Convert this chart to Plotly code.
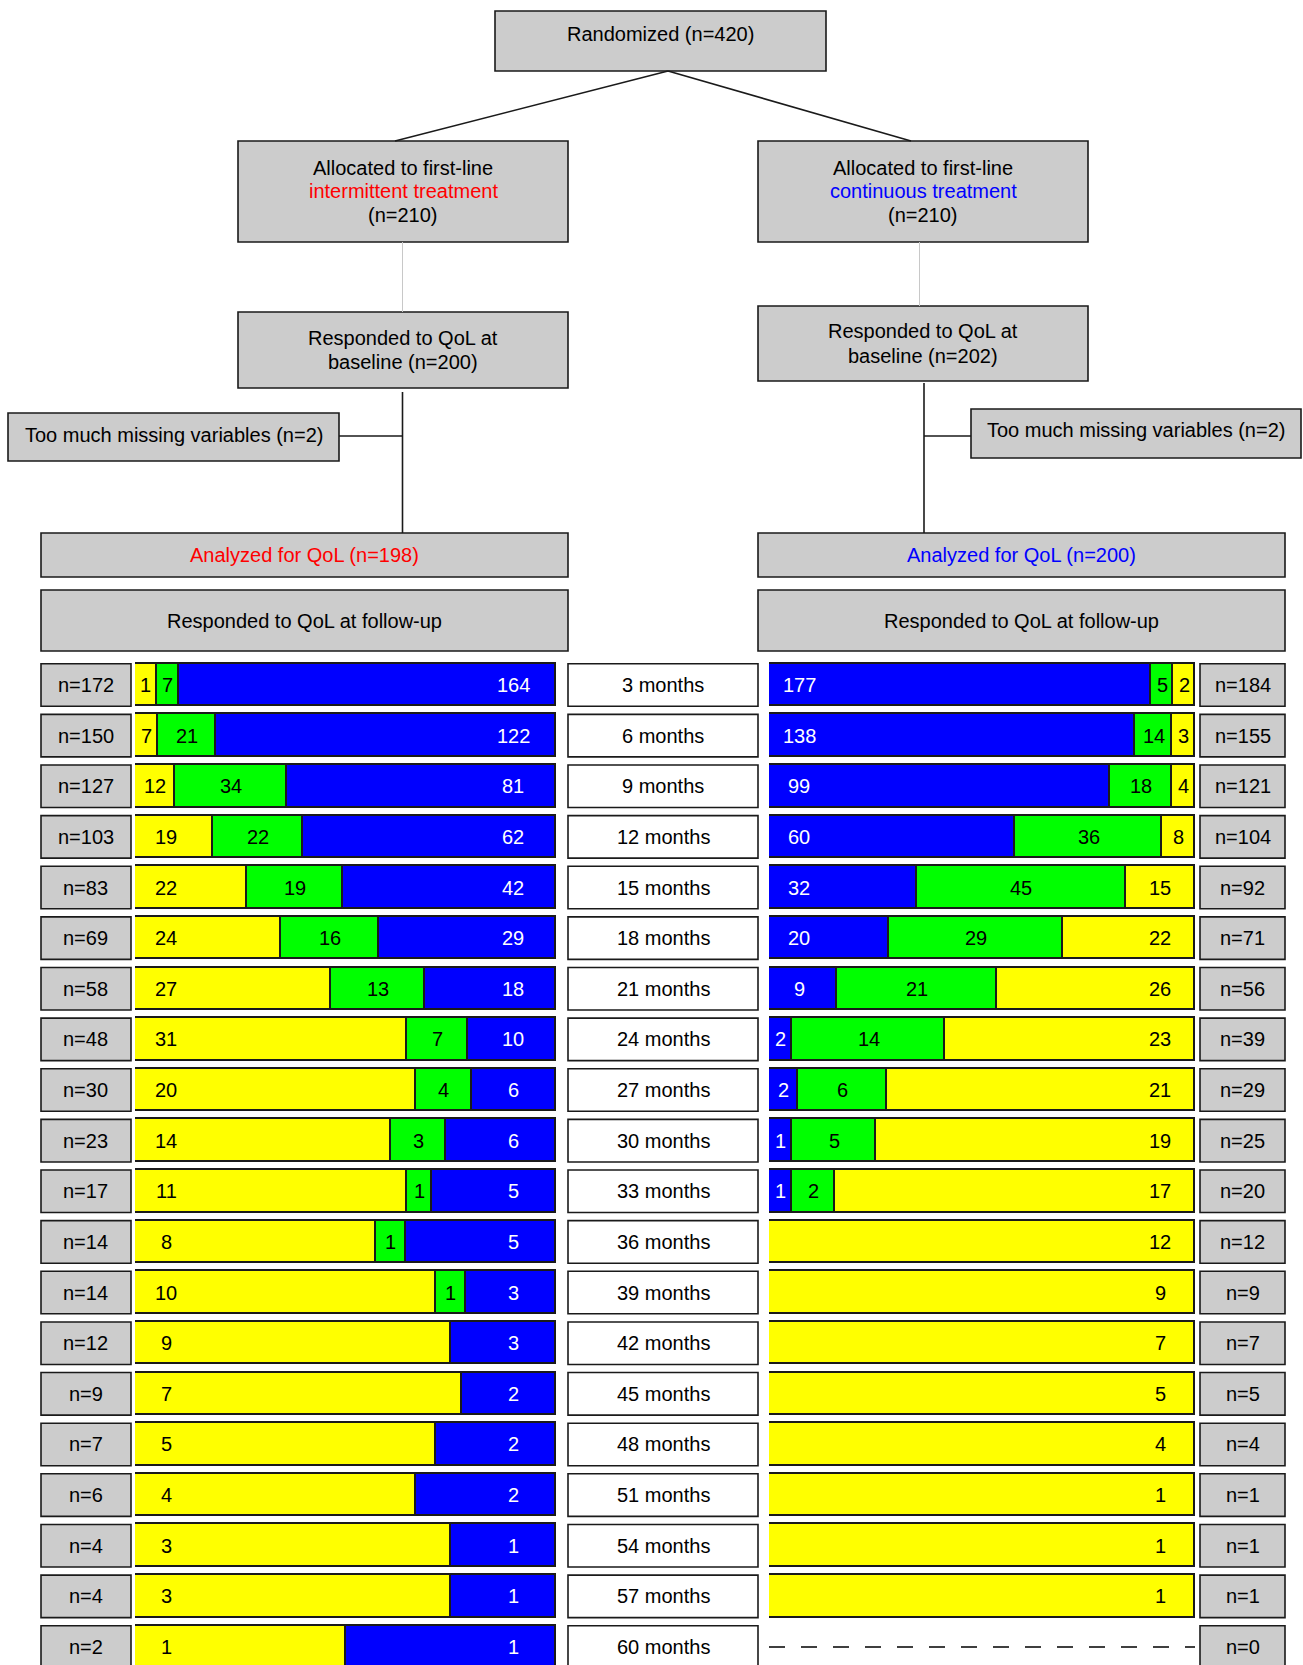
import plotly.graph_objects as go

# ---------------- data ----------------
months = ["3 months", "6 months", "9 months", "12 months", "15 months", "18 months",
          "21 months", "24 months", "27 months", "30 months", "33 months", "36 months",
          "39 months", "42 months", "45 months", "48 months", "51 months", "54 months",
          "57 months", "60 months"]

# intermittent arm (left): yellow, green, blue counts and responders
left_n = [172, 150, 127, 103, 83, 69, 58, 48, 30, 23, 17, 14, 14, 12, 9, 7, 6, 4, 4, 2]
left_yellow = [1, 7, 12, 19, 22, 24, 27, 31, 20, 14, 11, 8, 10, 9, 7, 5, 4, 3, 3, 1]
left_green = [7, 21, 34, 22, 19, 16, 13, 7, 4, 3, 1, 1, 1, 0, 0, 0, 0, 0, 0, 0]
left_blue = [164, 122, 81, 62, 42, 29, 18, 10, 6, 6, 5, 5, 3, 3, 2, 2, 2, 1, 1, 1]

# continuous arm (right): blue, green, yellow counts and responders
right_n = [184, 155, 121, 104, 92, 71, 56, 39, 29, 25, 20, 12, 9, 7, 5, 4, 1, 1, 1, 0]
right_blue = [177, 138, 99, 60, 32, 20, 9, 2, 2, 1, 1, 0, 0, 0, 0, 0, 0, 0, 0, 0]
right_green = [5, 14, 18, 36, 45, 29, 21, 14, 6, 5, 2, 0, 0, 0, 0, 0, 0, 0, 0, 0]
right_yellow = [2, 3, 4, 8, 15, 22, 26, 23, 21, 19, 17, 12, 9, 7, 5, 4, 1, 1, 1, 0]

# ---------------- style / layout constants ----------------
W, H = 1303, 1665
FONT = "Arial, Liberation Sans, sans-serif"
FS = 20
LINE_PX = 24
GRAY = "#cccccc"
YEL, GRN, BLU = "#ffff00", "#00ff00", "#0000ff"
EDGE = "#1a1a1a"
MIN_SHARE = 0.055         # minimum visible width of a non-empty segment
ROW0_PX, PITCH_PX, TOP_PX = 685.0, 50.63, 655.0
BAR_W = 0.84

LBAR = (135, 556)
RBAR = (769, 1195)


def X(p):
    return p / W


def Y(p):
    return 1 - p / H


def shares(vals):
    tot = sum(vals)
    if tot == 0:
        return [0.0] * len(vals)
    s = [max(v / tot, MIN_SHARE) if v > 0 else 0.0 for v in vals]
    t = sum(s)
    return [v / t for v in s]


rows = list(range(len(months)))
left_sh = [shares([a, b, c]) for a, b, c in zip(left_yellow, left_green, left_blue)]
right_sh = [shares([a, b, c]) for a, b, c in zip(right_blue, right_green, right_yellow)]

fig = go.Figure()


def add_bar(xs, color, axis):
    fig.add_trace(go.Bar(
        x=[v if v > 0 else None for v in xs], y=rows, orientation="h", width=BAR_W,
        marker=dict(color=color, line=dict(color=EDGE, width=1.6)),
        xaxis=axis, yaxis="y", hoverinfo="skip", showlegend=False))


add_bar([s[0] for s in left_sh], YEL, "x")
add_bar([s[1] for s in left_sh], GRN, "x")
add_bar([s[2] for s in left_sh], BLU, "x")
add_bar([s[0] for s in right_sh], BLU, "x2")
add_bar([s[1] for s in right_sh], GRN, "x2")
add_bar([s[2] for s in right_sh], YEL, "x2")

shapes = []
annotations = []


def box(x0, y0, x1, y1, lines, fill=GRAY, dy=0.0, width=1.6):
    shapes.append(dict(type="rect", xref="paper", yref="paper",
                       x0=X(x0), x1=X(x1), y0=Y(y1), y1=Y(y0),
                       fillcolor=fill, line=dict(color=EDGE, width=width), layer="below"))
    cy = (y0 + y1) / 2 + dy
    n = len(lines)
    for k, (txt, col) in enumerate(lines):
        yy = cy + (k - (n - 1) / 2) * LINE_PX
        annotations.append(dict(xref="paper", yref="paper", x=X((x0 + x1) / 2), y=Y(yy),
                                text=txt, showarrow=False, xanchor="center", yanchor="middle",
                                font=dict(family=FONT, size=FS, color=col)))


def line(x0, y0, x1, y1, color=EDGE, width=1.6):
    shapes.append(dict(type="line", xref="paper", yref="paper",
                       x0=X(x0), x1=X(x1), y0=Y(y0), y1=Y(y1),
                       line=dict(color=color, width=width)))


K, R, B = "black", "#ff0000", "#0000ff"
# flow chart
box(495, 11, 826, 71, [("Randomized (n=420)", K)], dy=-7)
box(238, 141, 568, 242, [("Allocated to first-line", K), ("intermittent treatment", R), ("(n=210)", K)])
box(758, 141, 1088, 242, [("Allocated to first-line", K), ("continuous treatment", B), ("(n=210)", K)])
box(238, 312, 568, 388, [("Responded to QoL at", K), ("baseline (n=200)", K)])
box(758, 306, 1088, 381, [("Responded to QoL at", K), ("baseline (n=202)", K)])
box(8, 413, 339, 461, [("Too much missing variables (n=2)", K)], dy=-2)
box(971, 409, 1301, 458, [("Too much missing variables (n=2)", K)], dy=-4)
box(41, 533, 568, 577, [("Analyzed for QoL (n=198)", R)])
box(758, 533, 1285, 577, [("Analyzed for QoL (n=200)", B)])
box(41, 590, 568, 651, [("Responded to QoL at follow-up", K)])
box(758, 590, 1285, 651, [("Responded to QoL at follow-up", K)])

line(668, 71, 395, 141)
line(668, 71, 911, 141)
line(402.5, 242, 402.5, 312, color="#c8c8c8", width=1)
line(919.5, 242, 919.5, 306, color="#c8c8c8", width=1)
line(402.5, 392, 402.5, 533)
line(339, 436, 402.5, 436)
line(924, 383, 924, 533)
line(924, 436, 971, 436)

# row boxes
half = BAR_W / 2
for i in rows:
    for (x0, x1, txt, fill) in [(41, 131, f"n={left_n[i]}", GRAY),
                                (568, 758, months[i], "white"),
                                (1200, 1285, f"n={right_n[i]}", GRAY)]:
        shapes.append(dict(type="rect", xref="paper", yref="y", x0=X(x0), x1=X(x1),
                           y0=i - half, y1=i + half, fillcolor=fill,
                           line=dict(color=EDGE, width=1.6), layer="below"))
        annotations.append(dict(xref="paper", yref="y", x=X((x0 + x1) / 2), y=i, text=txt,
                                showarrow=False, xanchor="center", yanchor="middle",
                                font=dict(family=FONT, size=FS, color="black")))

# dashed line where the continuous arm has no responders
for i in rows:
    if right_n[i] == 0:
        shapes.append(dict(type="line", xref="x2", yref="y", x0=0, x1=1, y0=i, y1=i,
                           line=dict(color="black", width=1.5, dash="16px,16px")))


# segment labels
def seg_labels(sh, counts, colors, axis, barpx, first_off, last_off):
    for i in rows:
        start = 0.0
        n = len(counts)
        for k in range(n):
            v = counts[k][i]
            w = sh[i][k]
            if v <= 0:
                start += w
                continue
            wpx = w * barpx
            xc = start + w / 2
            shift = 0
            if k == 0 and wpx > 2 * first_off:
                xc, shift = start, first_off
            elif k == n - 1 and wpx > 2 * last_off:
                xc, shift = start + w, -last_off
            annotations.append(dict(xref=axis, yref="y", x=xc, y=i, xshift=shift, text=str(v),
                                    showarrow=False, xanchor="center", yanchor="middle",
                                    font=dict(family=FONT, size=FS,
                                              color="white" if colors[k] == BLU else "black")))
            start += w


seg_labels(left_sh, [left_yellow, left_green, left_blue], [YEL, GRN, BLU], "x",
           LBAR[1] - LBAR[0], 31, 43)
seg_labels(right_sh, [right_blue, right_green, right_yellow], [BLU, GRN, YEL], "x2",
           RBAR[1] - RBAR[0], 30, 35)

yr0 = (H - ROW0_PX) / PITCH_PX
yr1 = (TOP_PX - ROW0_PX) / PITCH_PX

fig.update_layout(
    width=W, height=H, margin=dict(l=0, r=0, t=0, b=0, pad=0),
    paper_bgcolor="white", plot_bgcolor="rgba(0,0,0,0)",
    barmode="stack", bargap=0, showlegend=False,
    font=dict(family=FONT, size=FS),
    xaxis=dict(domain=[X(LBAR[0]), X(LBAR[1])], range=[0, 1], visible=False, fixedrange=True),
    xaxis2=dict(domain=[X(RBAR[0]), X(RBAR[1])], range=[0, 1], visible=False, fixedrange=True,
                anchor="y"),
    yaxis=dict(domain=[0, Y(TOP_PX)], range=[yr0, yr1], visible=False, fixedrange=True),
    shapes=shapes, annotations=annotations,
)

fig.write_html("out.html")
